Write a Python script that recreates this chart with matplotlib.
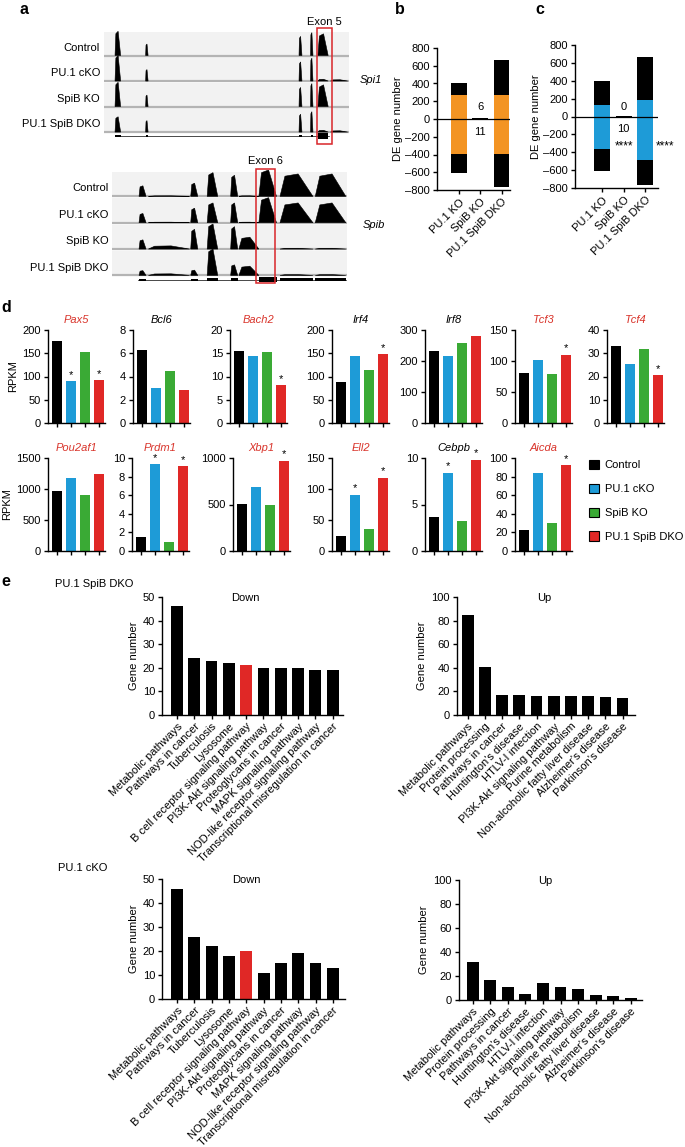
import numpy as np
import matplotlib.pyplot as plt
from matplotlib.patches import Rectangle, Patch

plt.rcParams['font.family'] = ['Liberation Sans', 'DejaVu Sans']
plt.rcParams['font.size'] = 8
plt.rcParams['axes.linewidth'] = 1.0
plt.rcParams['xtick.major.width'] = 1.0
plt.rcParams['ytick.major.width'] = 1.0
plt.rcParams['xtick.major.size'] = 3
plt.rcParams['ytick.major.size'] = 3

# ---------------- data ----------------
samples = ["Control", "PU.1 cKO", "SpiB KO", "PU.1 SpiB DKO"]
sample_colors = ["#000000", "#1e9bd7", "#3aaa35", "#e02826"]

# panel a: read coverage (relative height per exon, 0-100 track units)
spi1_exons = [(4.5, 6.8), (17.0, 18.0), (79.6, 80.8), (84.3, 85.3), (87.3, 91.5), (92.5, 99.5)]
spi1_cov = [[0.95, 0.45, 0.75, 0.90, 0.85, 0.0],
            [1.00, 0.45, 0.75, 0.90, 0.07, 0.05],
            [0.95, 0.45, 0.75, 0.90, 0.85, 0.0],
            [0.60, 0.45, 0.70, 0.80, 0.07, 0.05]]
spi1_model = [0.10, 0.06, 0.10, 0.10, 0.22, 0.0]

spib_exons = [(11.5, 14.5), (15.5, 33.0), (33.5, 36.5), (40.5, 45.0), (50.5, 53.5),
              (54.0, 62.5), (62.5, 70.0), (71.5, 85.5), (86.5, 99.5)]
spib_cov = [[0.40, 0.02, 0.50, 0.90, 0.80, 0.02, 1.00, 0.85, 0.85],
            [0.35, 0.02, 0.55, 0.75, 0.75, 0.02, 0.95, 0.75, 0.75],
            [0.35, 0.12, 0.75, 0.95, 0.85, 0.45, 0.00, 0.03, 0.03],
            [0.18, 0.06, 0.20, 1.00, 0.40, 0.35, 0.00, 0.03, 0.03]]
spib_model = [0.08, 0.0, 0.08, 0.14, 0.14, 0.0, 0.22, 0.14, 0.14]

# panels b, c: DE gene numbers
de_groups = ["PU.1 KO", "SpiB KO", "PU.1 SpiB DKO"]
de_up = [400, 6, 670]
de_down = [-610, -11, -770]
b_common_up = [265, 0, 265]
b_common_down = [-395, 0, -395]
c_common_up = [125, 0, 180]
c_common_down = [-360, -10, -490]

# panel d: RPKM
d_genes = ["Pax5", "Bcl6", "Bach2", "Irf4", "Irf8", "Tcf3", "Tcf4",
           "Pou2af1", "Prdm1", "Xbp1", "Ell2", "Cebpb", "Aicda"]
d_red = [True, False, True, False, False, True, True,
         True, True, True, True, False, True]
d_values = [[177, 90, 152, 92], [6.3, 3.0, 4.5, 2.85], [15.5, 14.4, 15.2, 8.1],
            [88, 145, 113, 148], [233, 217, 258, 282], [81, 101, 79, 110],
            [33, 25.5, 32, 20.5],
            [975, 1185, 910, 1235], [1.55, 9.35, 1.0, 9.1], [505, 690, 490, 970],
            [24, 91, 35, 118], [3.7, 8.4, 3.2, 9.8], [23, 84, 30, 92]]
d_stars = [[1, 3], [], [3], [3], [], [3], [3],
           [], [1, 3], [3], [1, 3], [1, 3], [3]]
d_ymax = [200, 8, 20, 200, 300, 150, 40, 1500, 10, 1000, 150, 10, 100]
d_ystep = [50, 2, 5, 50, 100, 50, 10, 500, 2, 500, 50, 5, 20]

# panel e: KEGG pathways
down_terms = ["Metabolic pathways", "Pathways in cancer", "Tuberculosis", "Lysosome",
              "B cell receptor signaling pathway", "PI3K-Akt signaling pathway",
              "Proteoglycans in cancer", "MAPK signaling pathway",
              "NOD-like receptor signaling pathway", "Transcriptional misregulation in cancer"]
up_terms = ["Metabolic pathways", "Protein processing", "Pathways in cancer",
            "Huntington's disease", "HTLV-I infection", "PI3K-Akt signaling pathway",
            "Purine metabolism", "Non-alcoholic fatty liver disease",
            "Alzheimer's disease", "Parkinson's disease"]
dko_down = [46, 24, 23, 22, 21, 20, 20, 20, 19, 19]
dko_up = [85, 41, 17, 17, 16, 16, 16, 16, 15, 14]
cko_down = [46, 26, 22, 18, 20, 11, 15, 19, 15, 13]
cko_up = [32, 17, 11, 5, 14, 11, 9, 4, 3, 2]
highlight = "B cell receptor signaling pathway"

RED_TXT = "#d9342b"
ORANGE = "#f39423"
BLUE = "#1e9bd7"

W, H = 685, 1147
fig = plt.figure(figsize=(W / 100, H / 100), dpi=100)


def px_axes(x0, y0, x1, y1):
    return fig.add_axes([x0 / W, 1 - y1 / H, (x1 - x0) / W, (y1 - y0) / H])


def ftext(x, y, s, **kw):
    fig.text(x / W, 1 - y / H, s, **kw)


def letter(x, y, s):
    ftext(x, y, s, fontsize=11.5, fontweight='bold', va='center', ha='left')


# ---------------- panel a ----------------
def draw_tracks(ax, exons, cov, model, x_model, box, ybot):
    for i, name in enumerate(samples):
        base = 3 - i
        ax.add_patch(Rectangle((0, base), 100, 0.93, color='#f2f2f2', lw=0, zorder=0))
        ax.plot([0, 100], [base, base], color='#b4b4b4', lw=1.6, zorder=1)
        for (s, e), h in zip(exons, cov[i]):
            if h <= 0:
                continue
            w = e - s
            ax.fill([s, s + 0.15 * w, s + 0.55 * w, e],
                    [base, base + h * 0.9, base + h, base],
                    color='black', lw=0.4, zorder=2)
        ax.text(-1.6, base + 0.3, name, ha='right', va='center', fontsize=8)
    ym = -0.16
    ax.plot(x_model, [ym, ym], color='black', lw=0.5, zorder=2)
    for (s, e), h in zip(exons, model):
        if h > 0:
            ax.add_patch(Rectangle((s, ym - h / 2), e - s, h, color='black', lw=0, zorder=3))
    ax.add_patch(Rectangle((box[0], ybot), box[1] - box[0], box[2] - ybot, fill=False,
                           edgecolor='#d9262a', lw=1.1, clip_on=False, zorder=5))
    ax.set_xlim(0, 100)
    ax.axis('off')


ax_spi1 = px_axes(104, 30, 349, 141)
ax_spi1.set_ylim(-0.35, 4)
draw_tracks(ax_spi1, spi1_exons, spi1_cov, spi1_model, [4.5, 92],
            (86.9, 93.1, 4.08), -0.47)
ax_spi1.text(90, 4.3, "Exon 5", ha='center', va='center', fontsize=8)
ax_spi1.text(104.5, 2.05, "Spi1", ha='left', va='center', fontsize=8, style='italic')

ax_spib = px_axes(112, 170, 347, 282)
ax_spib.set_ylim(-0.25, 4)
draw_tracks(ax_spib, spib_exons, spib_cov, spib_model, [11, 99.5],
            (61.3, 69.2, 4.04), -0.29)
ax_spib.text(65.2, 4.35, "Exon 6", ha='center', va='center', fontsize=8)
ax_spib.text(106.5, 1.9, "Spib", ha='left', va='center', fontsize=8, style='italic')

letter(20, 10, "a")

# ---------------- panels b, c ----------------
def de_panel(ax, common_up, common_down, col, xlim):
    x = np.arange(len(de_groups))
    ax.bar(x, de_up, 0.75, color='black', zorder=2)
    ax.bar(x, de_down, 0.75, color='black', zorder=2)
    ax.bar(x, common_up, 0.75, color=col, zorder=3)
    ax.bar(x, common_down, 0.75, color=col, zorder=3)
    ax.axhline(0, color='black', lw=0.9, zorder=4)
    ax.set_xlim(*xlim)
    ax.set_ylim(-800, 800)
    ax.set_yticks(np.arange(-800, 801, 200))
    ax.set_yticklabels([str(v).replace('-', '\u2013') for v in range(-800, 801, 200)])
    ax.set_xticks(x)
    ax.set_xticklabels(de_groups, rotation=45, ha='right', rotation_mode='anchor')
    ax.set_ylabel("DE gene number", fontsize=8, labelpad=2)
    for s in ['top', 'right']:
        ax.spines[s].set_visible(False)
    ax.tick_params(labelsize=8, pad=2)


ax_b = px_axes(437, 48, 510, 190)
de_panel(ax_b, b_common_up, b_common_down, ORANGE, (-1.05, 2.4))
ax_b.text(1, 130, str(de_up[1]), ha='center', va='center', fontsize=8)
ax_b.text(1, -150, str(abs(de_down[1])), ha='center', va='center', fontsize=8)
letter(395, 10, "b")

ax_c = px_axes(575, 45, 658, 188)
de_panel(ax_c, c_common_up, c_common_down, BLUE, (-1.26, 2.6))
ax_c.text(1, 110, str(c_common_up[1]), ha='center', va='center', fontsize=8)
ax_c.text(1, -140, str(abs(c_common_down[1])), ha='center', va='center', fontsize=8)
ax_c.text(1, -330, "****", ha='center', va='center', fontsize=8.5)
ax_c.text(2.5, -330, "****", ha='left', va='center', fontsize=8.5, clip_on=False)
letter(535, 10, "c")

# ---------------- panel d ----------------
row1_left = [48, 133, 230, 332, 425, 515, 607]
row2_left = [48, 132, 233, 332, 425, 515]
lefts = row1_left + row2_left
tops = [330] * 7 + [458] * 6
for k, gene in enumerate(d_genes):
    x0, y0 = lefts[k], tops[k]
    ax = px_axes(x0, y0, x0 + 57, y0 + 93)
    xs = np.arange(4)
    ax.bar(xs, d_values[k], 0.72, color=sample_colors, zorder=2)
    ax.set_xlim(-0.62, 3.45)
    ax.set_ylim(0, d_ymax[k])
    ax.set_yticks(np.arange(0, d_ymax[k] + d_ystep[k] / 2, d_ystep[k]))
    ax.set_xticks(xs)
    ax.set_xticklabels([])
    for s in ['top', 'right']:
        ax.spines[s].set_visible(False)
    ax.tick_params(labelsize=8, pad=2)
    for j in d_stars[k]:
        ax.text(j, d_values[k][j] + 0.015 * d_ymax[k], "*", ha='center', va='bottom',
                fontsize=8, clip_on=False)
    ax.set_title(gene, fontsize=8, style='italic', pad=5,
                 color=RED_TXT if d_red[k] else 'black')
    if k in (0, 7):
        ax.set_ylabel("RPKM", fontsize=8, labelpad=3)

handles = [Patch(facecolor=c, edgecolor='black', lw=0.8) for c in sample_colors]
fig.legend(handles, samples, loc='upper left', bbox_to_anchor=(589 / W, 1 - 460 / H),
           frameon=False, fontsize=8, handlelength=0.9, handleheight=0.9,
           labelspacing=1.2, handletextpad=0.5, borderaxespad=0, borderpad=0)

letter(1, 307, "d")

# ---------------- panel e ----------------
def kegg_panel(box, terms, vals, ymax, ystep, title, title_x, xlim):
    ax = px_axes(*box)
    xs = np.arange(len(terms))
    cols = ['#e02826' if t == highlight else 'black' for t in terms]
    ax.bar(xs, vals, 0.68, color=cols, zorder=2)
    ax.set_xlim(*xlim)
    ax.set_ylim(0, ymax)
    ax.set_yticks(np.arange(0, ymax + 1, ystep))
    ax.set_xticks(xs)
    ax.set_xticklabels(terms, rotation=45, ha='right', rotation_mode='anchor', fontsize=8)
    for s in ['top', 'right']:
        ax.spines[s].set_visible(False)
    ax.tick_params(labelsize=8, pad=2)
    ax.tick_params(axis='x', pad=1.5)
    ax.set_ylabel("Gene number", fontsize=8, labelpad=3)
    ax.text(title_x, 0.995, title, ha='center', va='center', fontsize=8,
            transform=ax.transAxes)
    return ax


kegg_panel((162, 597, 343, 715), down_terms, dko_down, 50, 10, "Down", 0.46, (-0.87, 9.6))
kegg_panel((457, 597, 635, 715), up_terms, dko_up, 100, 20, "Up", 0.49, (-0.62, 9.72))
kegg_panel((162, 879, 345, 999), down_terms, cko_down, 50, 10, "Down", 0.46, (-0.87, 9.7))
kegg_panel((459, 880, 642, 1000), up_terms, cko_up, 100, 20, "Up", 0.47, (-0.78, 9.64))

ftext(55, 584, "PU.1 SpiB DKO", fontsize=8, va='center')
ftext(58, 868, "PU.1 cKO", fontsize=8, va='center')
letter(1, 582, "e")

fig.savefig("out.png", dpi=100)
